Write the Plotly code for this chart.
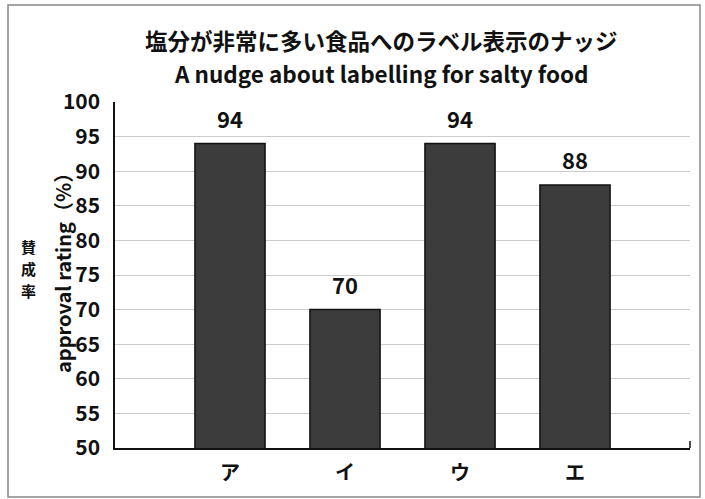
import plotly.graph_objects as go

categories = ["ア", "イ", "ウ", "エ"]
values = [94, 70, 94, 88]
title_jp = "塩分が非常に多い食品へのラベル表示のナッジ"
title_en = "A nudge about labelling for salty food"
ytitle_jp = ["賛", "成", "率"]
ytitle_en = "approval rating（%）"
yticks = list(range(50, 101, 5))

W, H = 705, 499
L, R, T, B = 115, 15, 102, 51
pw, ph = W - L - R, H - T - B

def px(x):
    return (x - L) / pw

def py(y):
    return (H - B - y) / ph

FONT = "Noto Sans CJK JP"
INK = "#111111"

fig = go.Figure()
fig.add_trace(go.Bar(
    x=list(range(len(categories))), y=values, width=0.61,
    marker=dict(color="#3c3c3c", line=dict(color=INK, width=1.5)),
))
for i, v in enumerate(values):
    fig.add_annotation(x=i, y=v, text="<b>%d</b>" % v, showarrow=False, yanchor="bottom",
                       yshift=8, font=dict(family=FONT, size=22, color=INK))

fig.update_layout(
    width=W, height=H, margin=dict(l=L, r=R, t=T, b=B),
    paper_bgcolor="white", plot_bgcolor="white", showlegend=False,
    xaxis=dict(range=[-1, 4], tickvals=list(range(len(categories))), ticktext=categories,
               showgrid=False, showline=True, linecolor=INK, linewidth=1.5,
               ticks="", tickfont=dict(family=FONT, size=20, color=INK, weight="bold"),
               ticklabelstandoff=6, zeroline=False),
    yaxis=dict(range=[50, 100], tickvals=yticks, showgrid=True, gridcolor="#cccccc", gridwidth=1,
               showline=True, linecolor=INK, linewidth=1.5, ticks="",
               tickfont=dict(family=FONT, size=21, color=INK, weight="bold"),
               ticklabelstandoff=9, zeroline=False),
    font=dict(family=FONT, color=INK),
)

for txt, yy in ((title_jp, 40), (title_en, 73)):
    fig.add_annotation(text="<b>" + txt + "</b>", x=px(381), y=py(yy), xref="paper", yref="paper",
                       xanchor="center", yanchor="middle",
                       showarrow=False, font=dict(family=FONT, size=22.5, color=INK))
fig.add_annotation(text="<b>" + ytitle_en + "</b>", x=px(62), y=py(268), xref="paper", yref="paper",
                   xanchor="center", yanchor="middle",
                   showarrow=False, textangle=-90, font=dict(family=FONT, size=20, color=INK))
for k, ch in enumerate(ytitle_jp):
    fig.add_annotation(text="<b>" + ch + "</b>", x=px(28), y=py(246 + 22 * k), xref="paper", yref="paper",
                       xanchor="center", yanchor="middle",
                       showarrow=False, font=dict(family=FONT, size=15, color=INK))

# outer frame
fig.add_shape(type="rect", xref="paper", yref="paper", x0=px(8), x1=px(700), y0=py(497), y1=py(5),
              line=dict(color="#888888", width=1.5))
# small end tick on x axis
fig.add_shape(type="line", xref="paper", yref="paper", x0=1, x1=1, y0=0, y1=py(441),
              line=dict(color=INK, width=1.5))

fig.write_html("out.html")
